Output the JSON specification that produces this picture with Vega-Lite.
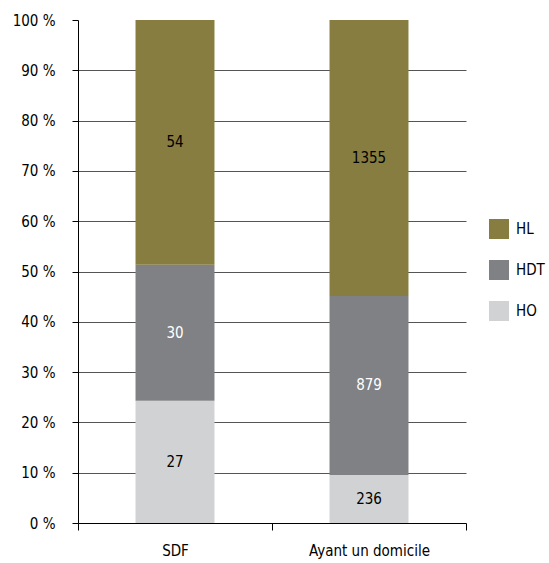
{
  "$schema": "https://vega.github.io/schema/vega-lite/v6.json",
  "width": 388,
  "height": 503,
  "autosize": {"type": "none"},
  "padding": {"left": 78, "top": 20, "right": 83, "bottom": 40},
  "background": "white",
  "config": {
    "font": "DejaVu Sans Condensed, sans-serif",
    "view": {"stroke": null}
  },
  "data": {
    "values": [
      {"groupe": "SDF", "serie": "HO", "rang": 1, "n": 27},
      {"groupe": "SDF", "serie": "HDT", "rang": 2, "n": 30},
      {"groupe": "SDF", "serie": "HL", "rang": 3, "n": 54},
      {"groupe": "Ayant un domicile", "serie": "HO", "rang": 1, "n": 236},
      {"groupe": "Ayant un domicile", "serie": "HDT", "rang": 2, "n": 879},
      {"groupe": "Ayant un domicile", "serie": "HL", "rang": 3, "n": 1355}
    ]
  },
  "transform": [
    {"stack": "n", "groupby": ["groupe"], "sort": [{"field": "rang", "order": "ascending"}], "offset": "normalize", "as": ["y0", "y1"]},
    {"calculate": "(datum.y0 + datum.y1) / 2", "as": "ymid"}
  ],
  "encoding": {
    "x": {
      "field": "groupe",
      "type": "nominal",
      "sort": ["SDF", "Ayant un domicile"],
      "scale": {"paddingInner": 0, "paddingOuter": 0},
      "axis": {
        "title": null,
        "labelAngle": 0,
        "labelFontSize": 15,
        "labelColor": "black",
        "labelPadding": 13,
        "tickBand": "extent",
        "tickSize": 7,
        "tickColor": "black",
        "domainColor": "black",
        "grid": false
      }
    }
  },
  "layer": [
    {
      "mark": {"type": "bar", "width": {"band": 0.407}},
      "encoding": {
        "y": {
          "field": "y0",
          "type": "quantitative",
          "scale": {"domain": [0, 1]},
          "axis": {
            "title": null,
            "values": [0, 0.1, 0.2, 0.3, 0.4, 0.5, 0.6, 0.7, 0.8, 0.9, 1],
            "labelExpr": "round(datum.value * 100) + ' %'",
            "labelFontSize": 15,
            "labelColor": "black",
            "labelPadding": 17,
            "tickSize": 6,
            "tickColor": "black",
            "domainColor": "black",
            "grid": true,
            "gridColor": "#555555",
            "gridOpacity": {"condition": {"test": "datum.value >= 0.99 || datum.value <= 0.01", "value": 0}, "value": 1}
          }
        },
        "y2": {"field": "y1"},
        "color": {
          "field": "serie",
          "type": "nominal",
          "scale": {"domain": ["HL", "HDT", "HO"], "range": ["#877d40", "#808184", "#d1d2d4"]},
          "legend": {
            "title": null,
            "orient": "none",
            "legendX": 411,
            "legendY": 199,
            "padding": 0,
            "symbolType": "square",
            "symbolSize": 400,
            "symbolStrokeWidth": 0,
            "rowPadding": 21,
            "labelOffset": 7,
            "labelFontSize": 15,
            "labelColor": "black"
          }
        }
      }
    },
    {
      "mark": {"type": "text", "fontSize": 15, "baseline": "middle", "align": "center"},
      "encoding": {
        "y": {"field": "ymid", "type": "quantitative"},
        "text": {"field": "n", "type": "quantitative"},
        "color": {
          "condition": {"test": "datum.serie === 'HDT'", "value": "white"},
          "value": "black"
        }
      }
    }
  ]
}
